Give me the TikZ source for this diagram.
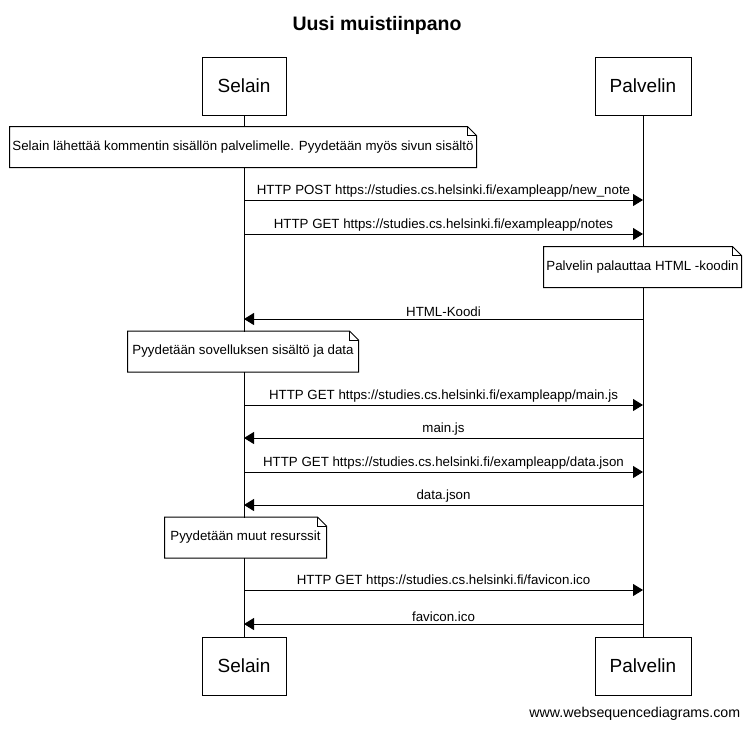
\documentclass[tikz,border=0pt]{standalone}
\usepackage{fontspec}
\setmainfont{Liberation Sans}
\usetikzlibrary{arrows.meta, positioning, calc}

\begin{document}
\begin{tikzpicture}[
  x=1pt, y=-1pt, line width=1pt,
  actor/.style={draw, rectangle, minimum width=84pt, minimum height=58pt, font=\fontsize{19}{22}\selectfont, inner sep=0pt},
  notebox/.style={rectangle, fill=white, minimum height=40pt, inner sep=0pt, font=\fontsize{13.3}{15}\selectfont},
  notefold/.style={draw, line join=miter},
  msg/.style={-{Triangle[length=10pt, width=12pt]}},
  lbl/.style={above, inner sep=2pt, font=\fontsize{13.3}{15}\selectfont}
]
\useasboundingbox (0,0) rectangle (752,729);

\node[font=\bfseries\fontsize{19.5}{22}\selectfont] (title) at (377,25) {Uusi muistiinpano};

% participants
\node[actor] (selTop) at (244,86) {Selain};
\node[actor, minimum width=96pt] (palTop) at (643,86) {Palvelin};
\node[actor] (selBot) at (244,666) {Selain};
\node[actor, minimum width=96pt] (palBot) at (643,666) {Palvelin};

\draw (selTop) -- (selBot);
\draw (palTop) -- (palBot);

% notes
\node[notebox, minimum width=466pt] (n1) at (243,147) {Selain lähettää kommentin sisällön palvelimelle. Pyydetään myös sivun sisältö};
\node[notebox, minimum width=197pt] (n2) at (642.5,267) {Palvelin palauttaa HTML -koodin};
\node[notebox, minimum width=230pt] (n3) at (243,351.5) {Pyydetään sovelluksen sisältö ja data};
\node[notebox, minimum width=161pt] (n4) at (245.5,537.5) {Pyydetään muut resurssit};

\foreach \n in {n1,n2,n3,n4} {
  \draw[notefold] (\n.north west) -- ($(\n.north east)+(-9,0)$) -- ($(\n.north east)+(0,9)$) -- (\n.south east) -- (\n.south west) -- cycle;
  \draw[notefold] ($(\n.north east)+(-9,0)$) |- ($(\n.north east)+(0,9)$);
}

% messages
\draw[msg] (selTop |- 0,200) -- node[lbl] {HTTP POST https://studies.cs.helsinki.fi/exampleapp/new\_note} (palTop |- 0,200);
\draw[msg] (selTop |- 0,234) -- node[lbl] {HTTP GET https://studies.cs.helsinki.fi/exampleapp/notes} (palTop |- 0,234);
\draw[msg] (palTop |- 0,319) -- node[lbl] {HTML-Koodi} (selTop |- 0,319);
\draw[msg] (selTop |- 0,405) -- node[lbl] {HTTP GET https://studies.cs.helsinki.fi/exampleapp/main.js} (palTop |- 0,405);
\draw[msg] (palTop |- 0,438) -- node[lbl] {main.js} (selTop |- 0,438);
\draw[msg] (selTop |- 0,472) -- node[lbl] {HTTP GET https://studies.cs.helsinki.fi/exampleapp/data.json} (palTop |- 0,472);
\draw[msg] (palTop |- 0,505) -- node[lbl] {data.json} (selTop |- 0,505);
\draw[msg] (selTop |- 0,590) -- node[lbl] {HTTP GET https://studies.cs.helsinki.fi/favicon.ico} (palTop |- 0,590);
\draw[msg] (palTop |- 0,624) -- node[lbl] {favicon.ico} (selTop |- 0,624);

\node[anchor=east, font=\fontsize{14.2}{16}\selectfont] (credit) at (744,714) {www.websequencediagrams.com};
\end{tikzpicture}
\end{document}
